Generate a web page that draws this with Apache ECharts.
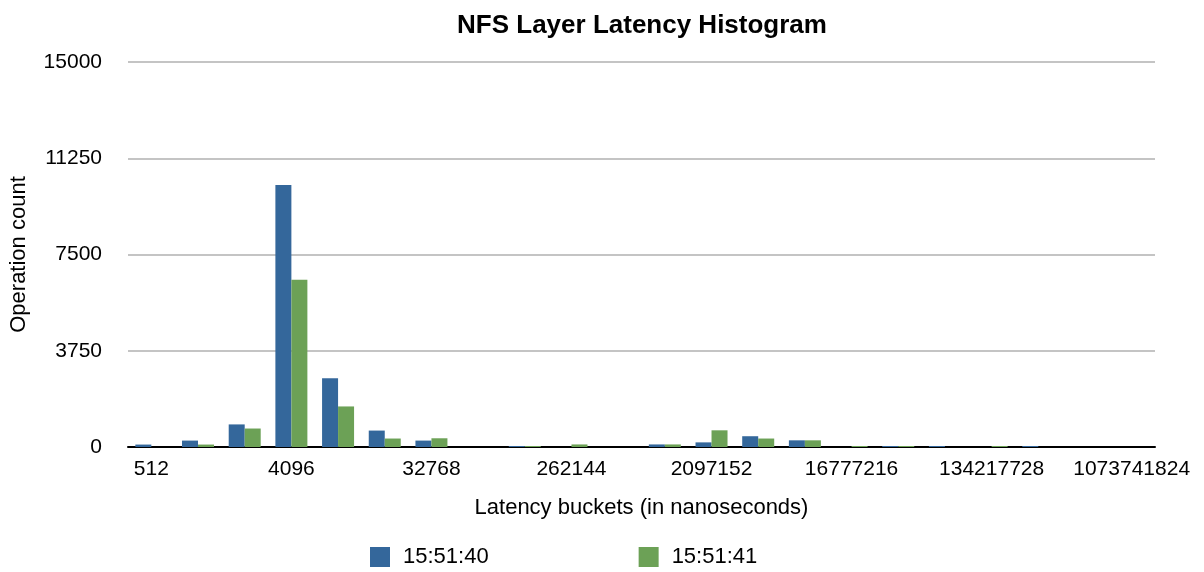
<!DOCTYPE html>
<html>
<head>
<meta charset="utf-8">
<script src="https://cdn.jsdelivr.net/npm/echarts@6/dist/echarts.min.js"></script>
<style>
  html, body { margin: 0; padding: 0; background: #fff; }
  #container { width: 1204px; height: 572px; }
</style>
</head>
<body>
<div id="container"></div>
<script>
// latency buckets, 2^9 .. 2^30 ns
let buckets = ['512', '1024', '2048', '4096', '8192', '16384', '32768', '65536',
    '131072', '262144', '524288', '1048576', '2097152', '4194304', '8388608',
    '16777216', '33554432', '67108864', '134217728', '268435456', '536870912', '1073741824'];
let ops1540 = [95, 250, 880, 10210, 2680, 640, 250, 0, 40, 0, 0, 100, 180, 420, 260, 0, 40, 40, 0, 40, 0, 0];
let ops1541 = [0, 95, 720, 6520, 1580, 330, 340, 0, 40, 100, 0, 100, 650, 330, 260, 40, 40, 0, 40, 0, 0, 0];
let yTicks = [0, 3750, 7500, 11250, 15000];

let font = '"Liberation Sans", Arial, Helvetica, sans-serif';
let dom = document.getElementById("container");
let myChart = echarts.init(dom);
let option = {
    backgroundColor: '#fff',
    textStyle: { fontFamily: font },
    title: {
        text: 'NFS Layer Latency Histogram',
        left: 637,
        textAlign: 'center',
        top: 8,
        textStyle: { fontSize: 26, fontWeight: 'bold', color: '#000', fontFamily: font }
    },
    legend: {
        data: ['15:51:40', '15:51:41'],
        left: 365,
        top: 541,
        itemWidth: 20,
        itemHeight: 20,
        itemGap: 150,
        icon: 'rect',
        textStyle: { fontSize: 22, color: '#000', fontFamily: font, padding: [0, 0, 0, 8] }
    },
    grid: {
        left: 128,
        right: 49,
        top: 62,
        bottom: 125
    },
    xAxis: {
        type: 'category',
        data: buckets,
        name: 'Latency buckets (in nanoseconds)',
        nameLocation: 'middle',
        nameGap: 50,
        nameTextStyle: { fontSize: 22, color: '#000', fontFamily: font },
        axisLine: { lineStyle: { color: '#000', width: 2 } },
        axisTick: { show: false },
        axisLabel: { interval: 2, fontSize: 21, color: '#000', margin: 12, fontFamily: font }
    },
    yAxis: {
        type: 'value',
        min: yTicks[0],
        max: yTicks[yTicks.length - 1],
        interval: yTicks[1] - yTicks[0],
        name: 'Operation count',
        nameLocation: 'middle',
        nameGap: 98,
        nameTextStyle: { fontSize: 22, color: '#000', fontFamily: font },
        axisLine: { show: false },
        axisTick: { show: false },
        axisLabel: {
            fontSize: 21, color: '#000', margin: 26, fontFamily: font,
            formatter: function (v) { return String(v); }
        },
        splitLine: { lineStyle: { color: '#b0b0b0', width: 1.5 } }
    },
    series: [
        {
            name: '15:51:40',
            type: 'bar',
            data: ops1540,
            barWidth: 16,
            barGap: '0%',
            itemStyle: { color: '#34679b' }
        },
        {
            name: '15:51:41',
            type: 'bar',
            data: ops1541,
            barWidth: 16,
            barGap: '0%',
            itemStyle: { color: '#6ca156' }
        }
    ]
};
if (option && typeof option === "object") {
    myChart.setOption(option, true);
}
</script>
</body>
</html>
